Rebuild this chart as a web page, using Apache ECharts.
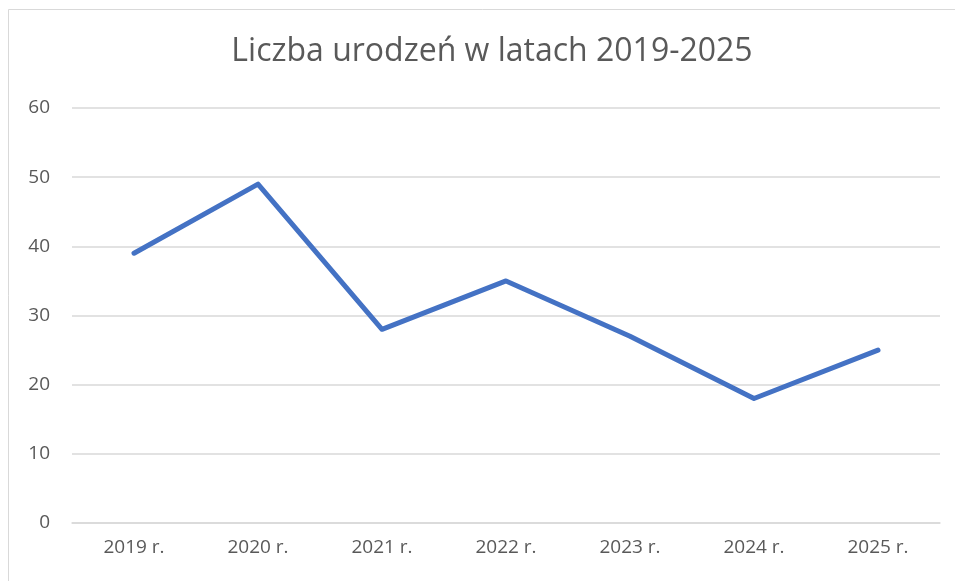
<!DOCTYPE html>
<html><head><meta charset="utf-8">
<script src="https://cdn.jsdelivr.net/npm/echarts@6/dist/echarts.min.js"></script>
<style>html,body{margin:0;padding:0;background:#fff}#c{width:955px;height:581px}</style>
</head><body><div id="c"></div>
<script>
const titleText = 'Liczba urodzeń w latach 2019-2025';
const categories = ['2019 r.', '2020 r.', '2021 r.', '2022 r.', '2023 r.', '2024 r.', '2025 r.'];
const births = [39, 49, 28, 35, 27, 18, 25];
const yMin = 0, yMax = 60, yStep = 10;

const chart = echarts.init(document.getElementById('c'), null, {renderer: 'canvas'});
chart.setOption({
  animation: false,
  backgroundColor: '#fff',
  graphic: [{type: 'rect', shape: {x: 8.5, y: 9.5, width: 980, height: 600}, style: {fill: 'none', stroke: '#d9d9d9', lineWidth: 1}, silent: true, z: -1}],
  title: {text: titleText, left: 487, top: 31, textAlign: 'center',
    textStyle: {fontFamily: 'Open Sans', fontWeight: 'normal', fontSize: 32, color: '#595959'}},
  grid: {left: 72, right: 15, top: 108, bottom: 58, containLabel: false},
  xAxis: {type: 'category', data: categories, boundaryGap: true,
    axisLine: {show: true, lineStyle: {color: '#d9d9d9', width: 1.5}},
    axisTick: {show: false},
    axisLabel: {color: '#595959', fontFamily: 'Open Sans', fontSize: 19, margin: 15}},
  yAxis: {type: 'value', min: yMin, max: yMax, interval: yStep,
    axisLine: {show: false}, axisTick: {show: false},
    splitLine: {lineStyle: {color: '#d9d9d9', width: 1.5}},
    axisLabel: {color: '#595959', fontFamily: 'Open Sans', fontSize: 19, margin: 22}},
  series: [{type: 'line', data: births, showSymbol: false, symbol: 'none',
    lineStyle: {color: '#4472C4', width: 5, cap: 'round', join: 'round'}}]
});
</script></body></html>
